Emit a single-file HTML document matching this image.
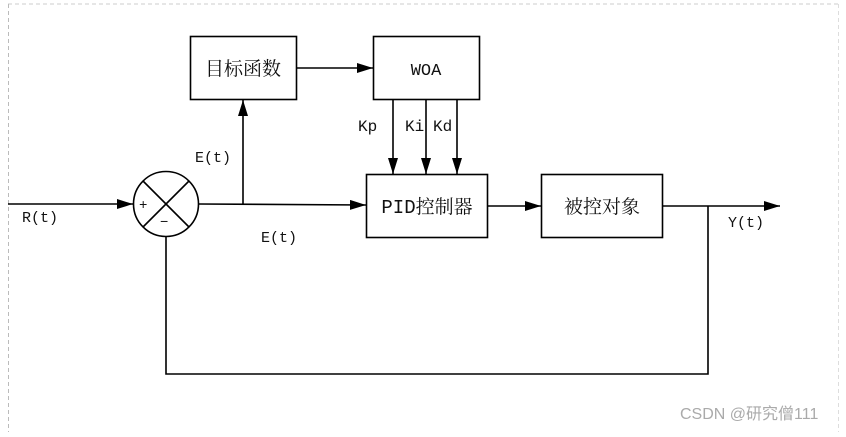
<!DOCTYPE html>
<html><head><meta charset="utf-8"><style>
body{margin:0;background:#fff;width:846px;height:432px;overflow:hidden}
text{font-family:"Liberation Mono","Noto Serif CJK SC",monospace;fill:#111}
</style></head><body>
<svg width="846" height="432" xmlns="http://www.w3.org/2000/svg">
<defs><marker id="a" markerWidth="16" markerHeight="10" refX="16" refY="5" orient="auto" markerUnits="userSpaceOnUse"><path d="M0,0L16,5L0,10z" fill="#000"/></marker></defs>
<line x1="8" y1="4" x2="838" y2="4" stroke="#ccc" stroke-dasharray="4,3"/>
<line x1="8.5" y1="4" x2="8.5" y2="432" stroke="#bbb" stroke-dasharray="4,3"/>
<line x1="838.5" y1="4" x2="838.5" y2="432" stroke="#ddd" stroke-dasharray="4,3"/>
<g stroke="#000" stroke-width="1.6" fill="none">
<rect x="190.5" y="36.5" width="106" height="63"/>
<rect x="373.5" y="36.5" width="106" height="63"/>
<rect x="366.5" y="174.5" width="121" height="63"/>
<rect x="541.5" y="174.5" width="121" height="63"/>
<circle cx="166" cy="204" r="32.5"/>
<line x1="143" y1="181" x2="189" y2="227"/><line x1="189" y1="181" x2="143" y2="227"/>
<line x1="8" y1="204" x2="133" y2="204" marker-end="url(#a)"/>
<line x1="199" y1="204" x2="366" y2="205" marker-end="url(#a)"/>
<line x1="243" y1="204" x2="243" y2="100" marker-end="url(#a)"/>
<line x1="297" y1="68" x2="373" y2="68" marker-end="url(#a)"/>
<line x1="393" y1="100" x2="393" y2="174" marker-end="url(#a)"/>
<line x1="426" y1="100" x2="426" y2="174" marker-end="url(#a)"/>
<line x1="457" y1="100" x2="457" y2="174" marker-end="url(#a)"/>
<line x1="488" y1="206" x2="541" y2="206" marker-end="url(#a)"/>
<line x1="663" y1="206" x2="780" y2="206" marker-end="url(#a)"/>
<polyline points="708,206 708,374 166,374 166,237"/>
</g>
<text x="243" y="75" font-size="19" text-anchor="middle">目标函数</text>
<text x="426" y="75" font-size="17" text-anchor="middle">WOA</text>
<text x="427" y="213" font-size="19" text-anchor="middle">PID控制器</text>
<text x="602" y="213" font-size="19" text-anchor="middle">被控对象</text>
<text x="358" y="131" font-size="16">Kp</text>
<text x="405" y="131" font-size="16">Ki</text>
<text x="433" y="131" font-size="16">Kd</text>
<text x="195" y="162" font-size="15">E(t)</text>
<text x="261" y="242" font-size="15">E(t)</text>
<text x="22" y="222" font-size="15">R(t)</text>
<text x="728" y="227" font-size="15">Y(t)</text>
<text x="139" y="209" font-size="14">+</text>
<text x="160" y="226" font-size="14">−</text>
<text x="680" y="419" font-size="16" style="font-family:'Liberation Sans','Noto Sans CJK SC',sans-serif;fill:#aaa">CSDN @研究僧111</text>
</svg>
</body></html>
